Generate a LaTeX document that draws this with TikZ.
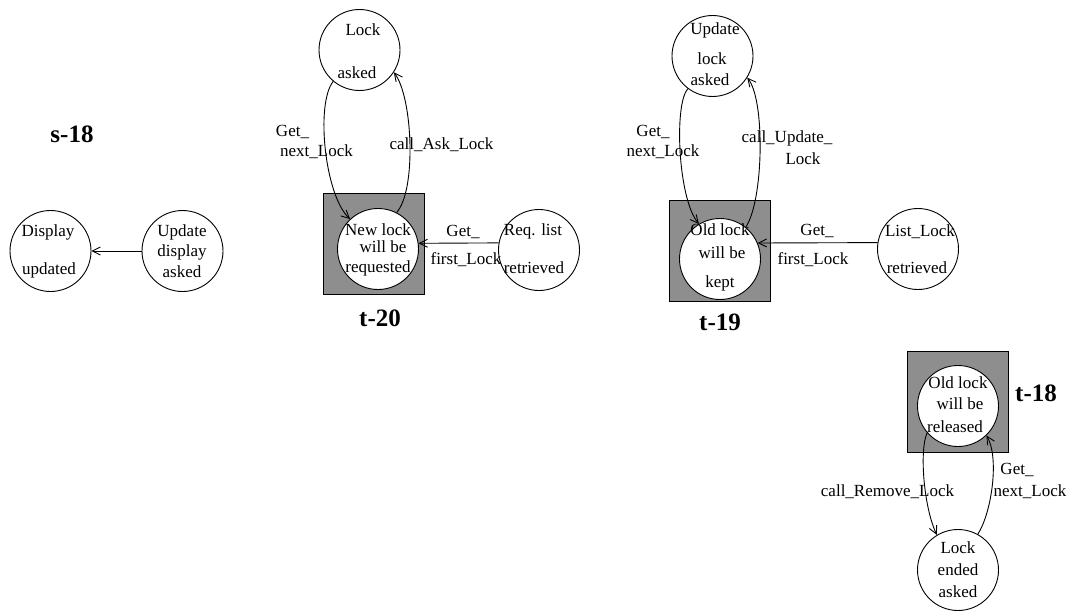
\documentclass[tikz,border=0pt]{standalone}
\usepackage{fontspec}
\setmainfont{Liberation Serif}
\usetikzlibrary{arrows.meta}
\definecolor{figgray}{RGB}{142,142,142}
\tikzset{
  st/.style={circle, draw=black, line width=0.9pt, minimum size=81pt, inner sep=0pt, fill=white},
  boxsq/.style={rectangle, draw=black, line width=0.9pt, fill=figgray, minimum size=101pt, inner sep=0pt},
  tx/.style={inner sep=0pt, font=\fontsize{17}{20}\selectfont},
  ttl/.style={inner sep=0pt, font=\fontsize{25}{28}\selectfont\bfseries},
  arr/.style={line width=0.9pt, -{Straight Barb[length=8pt,width=8pt]}}
}
\begin{document}
\begin{tikzpicture}[x=1pt,y=-1pt]
\useasboundingbox (0,0) rectangle (1072,613);

% ---------- s-18 ----------
\node[ttl] (s18) at (72,134) {s-18};
\node[st] (du) at (50.5,251) {};
\node[st] (uda) at (182.5,251) {};
\node[tx] (du1) at (48,232) {Display};
\node[tx] (du2) at (49,270) {updated};
\node[tx] (ud1) at (182,232) {Update};
\node[tx] (ud2) at (182,252) {display};
\node[tx] (ud3) at (182,272) {asked};
\draw[arr] (uda.west) -- (du.east);

% ---------- t-20 ----------
\node[boxsq] (sq20) at (373.5,243.5) {};
\node[st] (la) at (359.5,50) {};
\node[st] (nl) at (378,249) {};
\node[st] (rl) at (539,250) {};
\node[tx] (la1) at (363,30) {Lock};
\node[tx] (la2) at (357,73) {asked};
\node[tx] (nl1) at (378,230) {New lock};
\node[tx] (nl2) at (383,247) {will be};
\node[tx] (nl3) at (378,268) {requested};
\node[tx] (rl1) at (533,231) {Req. list};
\node[tx] (rl2) at (534,268) {retrieved};
\node[ttl] (t20) at (380,318) {t-20};
\draw[arr] (la.230) .. controls +(-18,23) and +(-25,-23) .. (nl.133);
\draw[arr] (nl.63) .. controls +(20,-22) and +(19,25) .. (la.327);
\draw[arr] (rl.170) -- (nl.8.6);
\node[tx] (g20a) at (292.5,132) {Get\_};
\node[tx] (g20b) at (316.5,152) {next\_Lock};
\node[tx] (c20) at (441.5,145) {call\_Ask\_Lock};
\node[tx] (f20a) at (463,232) {Get\_};
\node[tx] (f20b) at (466,260) {first\_Lock};

% ---------- t-19 ----------
\node[boxsq] (sq19) at (720,251) {};
\node[st] (ul) at (712.5,56) {};
\node[st] (ol) at (720,259) {};
\node[st] (ll) at (918,249) {};
\node[tx] (ul1) at (715,30) {Update};
\node[tx] (ul2) at (712,59) {lock};
\node[tx] (ul3) at (710,80) {asked};
\node[tx] (ol1) at (720,230) {Old lock};
\node[tx] (ol2) at (722,253) {will be};
\node[tx] (ol3) at (720,283) {kept};
\node[tx] (ll1) at (920,232) {List\_Lock};
\node[tx] (ll2) at (917,268) {retrieved};
\node[ttl] (t19) at (720,322) {t-19};
\draw[arr] (ul.233) .. controls +(-14,15) and +(-21,-25) .. (ol.121);
\draw[arr] (ol.51) .. controls +(18,-27) and +(18,22) .. (ul.328.5);
\draw[arr] (ll.171) -- (ol.23.5);
\node[tx] (g19a) at (653,132) {Get\_};
\node[tx] (g19b) at (663,152) {next\_Lock};
\node[tx] (c19a) at (787,138) {call\_Update\_};
\node[tx] (c19b) at (803,159) {Lock};
\node[tx] (f19a) at (817,231) {Get\_};
\node[tx] (f19b) at (813,260) {first\_Lock};

% ---------- t-18 ----------
\node[boxsq] (sq18) at (957.5,402) {};
\node[st] (orl) at (958,406) {};
\node[st] (le) at (958,570) {};
\node[tx] (or1) at (958,383) {Old lock};
\node[tx] (or2) at (960,404) {will be};
\node[tx] (or3) at (955,427) {released};
\node[tx] (le1) at (958,548) {Lock};
\node[tx] (le2) at (958,570) {ended};
\node[tx] (le3) at (958,592) {asked};
\node[ttl] (t18) at (1036,393) {t-18};
\draw[arr] (orl.221) .. controls +(-8,18) and +(-13,-27) .. (le.121);
\draw[arr] (le.61) .. controls +(14,-22) and +(13,22) .. (orl.314);
\node[tx] (c18) at (887.5,492) {call\_Remove\_Lock};
\node[tx] (g18a) at (1017,470) {Get\_};
\node[tx] (g18b) at (1030,492) {next\_Lock};
\end{tikzpicture}
\end{document}
